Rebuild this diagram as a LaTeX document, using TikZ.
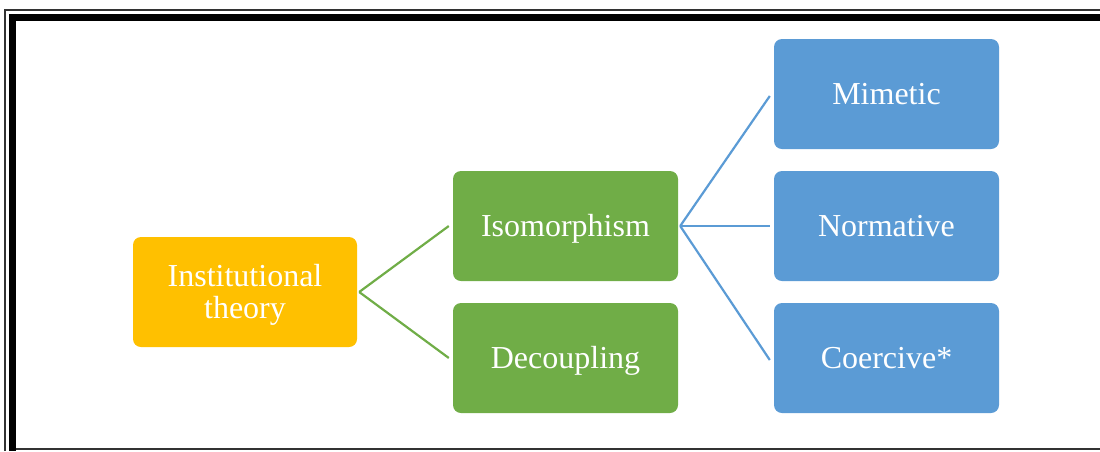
\documentclass[tikz,border=0pt]{standalone}
\usepackage{fontspec}
\setmainfont{Liberation Serif}
\definecolor{cOrange}{HTML}{FFC000}
\definecolor{cGreen}{HTML}{70AD47}
\definecolor{cBlue}{HTML}{5B9BD5}
\definecolor{cFrame}{HTML}{333333}
\begin{document}
\begin{tikzpicture}[x=1pt,y=-1pt,
  box/.style={rounded corners=8pt, minimum width=225pt, minimum height=110pt,
    inner sep=0pt, text=white, align=center, text height=24pt, text depth=4pt,
    font=\fontsize{32}{32}\selectfont},
  orangebox/.style={box, fill=cOrange, minimum width=224pt, text height=56pt},
  greenbox/.style={box, fill=cGreen},
  bluebox/.style={box, fill=cBlue},
  glink/.style={draw=cGreen, line width=2.2pt},
  blink/.style={draw=cBlue, line width=2.2pt}]
\useasboundingbox (0,0) rectangle (1100,451);
% frame
\draw[cFrame, line width=2pt] (4.5,451) -- (4.5,10) -- (1100,10);
\draw[black, line width=7pt] (12.5,451) -- (12.5,17) -- (1100,17);
\draw[cFrame, line width=2pt] (16,449) -- (1100,449);
% nodes
\node[orangebox] (inst) at (245,292) {Institutional\\theory};
\node[greenbox] (iso) at (565.5,226) {Isomorphism};
\node[greenbox] (dec) at (565.5,358) {Decoupling};
\node[bluebox] (mim) at (886.5,94) {Mimetic};
\node[bluebox] (nor) at (886.5,226) {Normative};
\node[bluebox] (coe) at (886.5,358) {Coercive*};
% connectors
\draw[glink] ([xshift=2pt]inst.east) -- ([xshift=-4pt]iso.west);
\draw[glink] ([xshift=2pt]inst.east) -- ([xshift=-4pt]dec.west);
\draw[blink] ([xshift=2pt]iso.east) -- ([xshift=-4pt,yshift=-2pt]mim.west);
\draw[blink] ([xshift=2pt]iso.east) -- ([xshift=-4pt]nor.west);
\draw[blink] ([xshift=2pt]iso.east) -- ([xshift=-4pt,yshift=-2pt]coe.west);
\end{tikzpicture}
\end{document}
